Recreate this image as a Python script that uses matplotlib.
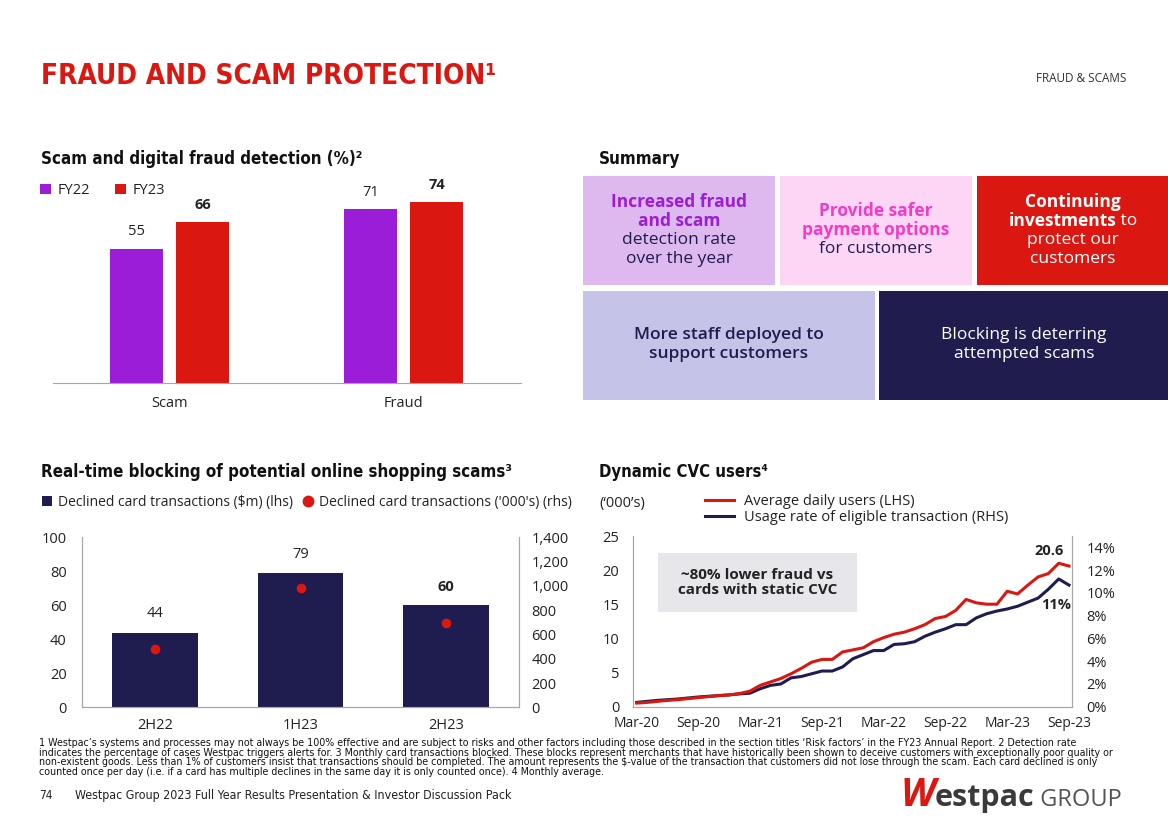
import matplotlib
matplotlib.use("Agg")
import matplotlib.pyplot as plt
from matplotlib import font_manager
from matplotlib.patches import Rectangle
from matplotlib.lines import Line2D
from matplotlib.ticker import FuncFormatter
import numpy as np

W, H = 1168, 825

# ---- data ----
detect_groups = ["Scam", "Fraud"]
detect_fy22 = [55, 71]
detect_fy23 = [66, 74]

block_periods = ["2H22", "1H23", "2H23"]
block_value_m = [44, 79, 60]
block_count_k = [480, 980, 695]

# monthly, Mar-20 .. Sep-23
cvc_users = [0.5, 0.6, 0.75, 0.9, 1.0, 1.15, 1.3, 1.45, 1.6, 1.7, 1.9, 2.25,
             3.1, 3.6, 4.1, 4.8, 5.6, 6.5, 6.9, 6.9, 8.0, 8.3, 8.6, 9.5,
             10.1, 10.6, 10.9, 11.4, 12.0, 12.9, 13.2, 14.1, 15.7, 15.2, 15.0, 15.0,
             16.9, 16.5, 17.8, 19.0, 19.5, 21.0, 20.6]
cvc_usage_pct = [0.36, 0.45, 0.54, 0.60, 0.66, 0.75, 0.84, 0.90, 0.96, 1.02, 1.11, 1.17,
                 1.56, 1.86, 1.98, 2.52, 2.64, 2.88, 3.12, 3.12, 3.48, 4.20, 4.56, 4.92,
                 4.92, 5.46, 5.52, 5.70, 6.18, 6.54, 6.84, 7.20, 7.20, 7.80, 8.16, 8.40,
                 8.58, 8.82, 9.18, 9.54, 10.32, 11.22, 10.68]
cvc_tick_labels = ["Mar-20", "Sep-20", "Mar-21", "Sep-21",
                   "Mar-22", "Sep-22", "Mar-23", "Sep-23"]

footnotes = [
    "1 Westpac\u2019s systems and processes may not always be 100% effective and are subject to risks and other factors including those described in the section titles \u2018Risk factors\u2019 in the FY23 Annual Report. 2 Detection rate",
    "indicates the percentage of cases Westpac triggers alerts for. 3 Monthly card transactions blocked. These blocks represent merchants that have historically been shown to deceive customers with exceptionally poor quality or",
    "non-existent goods. Less than 1% of customers insist that transactions should be completed. The amount represents the $-value of the transaction that customers did not lose through the scam. Each card declined is only",
    "counted once per day (i.e. if a card has multiple declines in the same day it is only counted once). 4 Monthly average.",
]

RED = "#DA1710"
PURPLE = "#9B1DD8"
NAVY = "#1F1C4F"
PINK = "#F03CC6"
GREY = "#A6A6A6"
TXT = "#222222"

plt.rcParams["font.family"] = ["Open Sans", "DejaVu Sans"]
plt.rcParams["text.color"] = TXT
plt.rcParams["axes.edgecolor"] = GREY
plt.rcParams["xtick.color"] = TXT
plt.rcParams["ytick.color"] = TXT

# condensed face for headings and small print
names = {f.name for f in font_manager.fontManager.ttflist}
cond = {f.name for f in font_manager.fontManager.ttflist if f.stretch == "condensed"}
if "Liberation Sans Narrow" in names:
    NARROW = dict(family=["Liberation Sans Narrow", "DejaVu Sans"])
elif "Noto Sans" in cond:
    NARROW = dict(family=["Noto Sans", "DejaVu Sans"], fontstretch="condensed")
elif "DejaVu Sans" in cond:
    NARROW = dict(family=["DejaVu Sans"], fontstretch="condensed")
else:
    NARROW = dict(family=["DejaVu Sans"])

fig = plt.figure(figsize=(W / 100, H / 100), dpi=100)
renderer = fig.canvas.get_renderer()


def fx(x):
    return x / W


def fy(y):
    return 1 - y / H


def box(l, t, r, b):
    return [l / W, 1 - b / H, (r - l) / W, (b - t) / H]


def fit(t, width, max_size=None):
    w = t.get_window_extent(renderer).width
    size = t.get_fontsize() * width / w
    if max_size is not None:
        size = min(size, max_size)
    t.set_fontsize(size)
    return size


# ---- headings ----
title = fig.text(fx(41), fy(83.5), "FRAUD AND SCAM PROTECTION\u00b9", color=RED,
                 fontsize=30, weight="bold", va="baseline", **NARROW)
fit(title, 455, 32)
fig.text(fx(1126), fy(78), "FRAUD & SCAMS", fontsize=8.5, color="#333333",
         ha="right", va="center")

headings = [
    (41, 163.5, "Scam and digital fraud detection (%)\u00b2", 324),
    (599, 163.5, "Summary", 82),
    (41, 476.5, "Real-time blocking of potential online shopping scams\u00b3", 474),
    (599, 476.5, "Dynamic CVC users\u2074", 170),
]
for x, y, s, w in headings:
    t = fig.text(fx(x), fy(y), s, fontsize=15, weight="bold", color="#111111",
                 va="baseline", **NARROW)
    fit(t, w, 15.5)

# ---- chart 1: detection rates ----
ax1 = fig.add_axes(box(52.7, 180, 520.5, 383.3))
xg = np.arange(len(detect_groups))
b22 = ax1.bar(xg - 0.142, detect_fy22, 0.226, color=PURPLE, label="FY22")
b23 = ax1.bar(xg + 0.142, detect_fy23, 0.226, color=RED, label="FY23")
ax1.set_xlim(-0.5, 1.5)
ax1.set_ylim(0, 83)
ax1.bar_label(b22, padding=7, fontsize=10.5)
lab = ax1.bar_label(b23, padding=7, fontsize=10.5)
for t in lab:
    t.set_fontweight("bold")
ax1.set_xticks(xg, detect_groups, fontsize=10.5)
ax1.set_yticks([])
ax1.tick_params(length=0, pad=9)
for side in ["top", "left", "right"]:
    ax1.spines[side].set_visible(False)
ax1.legend(loc="upper left", bbox_to_anchor=(fx(40), fy(183)),
           bbox_transform=fig.transFigure, ncol=2, frameon=False, fontsize=10.5,
           handlelength=0.72, handleheight=0.72, handletextpad=0.5,
           columnspacing=1.7, borderpad=0, borderaxespad=0)

# ---- summary tiles ----
tiles = [
    ((583, 176, 775, 285), "#DDB9F0"),
    ((780, 176, 972, 285), "#FDD5F5"),
    ((977, 176, 1168, 285), RED),
    ((583, 291, 875, 400), "#C6C3E9"),
    ((879, 291, 1168, 400), "#201C4E"),
]
for (l, t, r, b), c in tiles:
    fig.add_artist(Rectangle((fx(l), fy(b)), (r - l) / W, (b - t) / H,
                             transform=fig.transFigure, color=c, lw=0))

tile_lines = [
    (679, 202, "Increased fraud", "bold", PURPLE),
    (679, 221, "and scam", "bold", PURPLE),
    (679, 240, "detection rate", "normal", NAVY),
    (679, 259, "over the year", "normal", NAVY),
    (876, 211, "Provide safer", "bold", PINK),
    (876, 230, "payment options", "bold", PINK),
    (876, 249, "for customers", "normal", NAVY),
    (1073, 202, "Continuing", "bold", "white"),
    (1073, 240, "protect our", "normal", "white"),
    (1073, 259, "customers", "normal", "white"),
    (729, 335, "More staff deployed to", "semibold", NAVY),
    (729, 354, "support customers", "semibold", NAVY),
    (1024, 335, "Blocking is deterring", "normal", "white"),
    (1024, 354, "attempted scams", "normal", "white"),
]
for x, y, s, wt, c in tile_lines:
    fig.text(fx(x), fy(y), s, fontsize=12.5, weight=wt, color=c,
             ha="center", va="center")
t1 = fig.text(0, fy(221), "investments", fontsize=12.5, weight="bold",
              color="white", va="center")
t2 = fig.text(0, fy(221), " to", fontsize=12.5, color="white", va="center")
w1 = t1.get_window_extent(renderer).width
w2 = t2.get_window_extent(renderer).width
x0 = 1073 - (w1 + w2) / 2
t1.set_x(fx(x0))
t2.set_x(fx(x0 + w1))

# ---- chart 3: real-time blocking ----
ax3 = fig.add_axes(box(82, 537.3, 519, 707.3))
xp = np.arange(len(block_periods))
bars = ax3.bar(xp, block_value_m, 0.59, color=NAVY,
               label="Declined card transactions ($m) (lhs)")
ax3.set_xlim(-0.5, 2.5)
ax3.set_ylim(0, 100)
ax3.set_yticks(np.arange(0, 101, 20))
lab = ax3.bar_label(bars, padding=8, fontsize=10.5)
lab[-1].set_fontweight("bold")
ax3.set_xticks(xp, block_periods)
ax3.tick_params(axis="x", length=0, pad=8, labelsize=10.5)
ax3.tick_params(axis="y", length=0, pad=11, labelsize=10.5)
ax3.spines["top"].set_visible(False)
ax3r = ax3.twinx()
ax3r.plot(xp, block_count_k, "o", color=RED, ms=6)
ax3r.set_ylim(0, 1400)
ax3r.set_yticks(np.arange(0, 1401, 200))
ax3r.yaxis.set_major_formatter(FuncFormatter(lambda v, p: f"{v:,.0f}"))
ax3r.tick_params(axis="y", length=0, pad=9, labelsize=10.5)
ax3r.spines["top"].set_visible(False)
dot = Line2D([], [], marker="o", ls="", color=RED, ms=7.5,
             label="Declined card transactions ('000's) (rhs)")
ax3.legend(handles=[bars, dot], loc="upper left", bbox_to_anchor=(fx(42), fy(495)),
           bbox_transform=fig.transFigure, ncol=2, frameon=False, fontsize=10,
           handlelength=0.72, handleheight=0.72, handletextpad=0.45,
           columnspacing=0.7, borderpad=0, borderaxespad=0)

# ---- chart 4: dynamic CVC users ----
ax4 = fig.add_axes(box(633.3, 536, 1072.3, 706.5))
xm = np.arange(len(cvc_users))
l1, = ax4.plot(xm, cvc_users, color=RED, lw=2.2,
               label="Average daily users (LHS)")
ax4.set_xlim(-0.33, len(cvc_users) - 1 + 0.32)
ax4.set_ylim(0, 25)
ax4.set_yticks(np.arange(0, 26, 5))
ax4.set_xticks(np.arange(0, len(cvc_users), 6), cvc_tick_labels)
ax4.tick_params(axis="x", length=0, pad=7, labelsize=10)
ax4.tick_params(axis="y", length=0, pad=10, labelsize=10.5)
ax4.spines["top"].set_visible(False)
ax4r = ax4.twinx()
l2, = ax4r.plot(xm, cvc_usage_pct, color=NAVY, lw=2.2,
                label="Usage rate of eligible transaction (RHS)")
ax4r.set_ylim(0, 15)
ax4r.set_yticks(np.arange(0, 15, 2))
ax4r.yaxis.set_major_formatter(FuncFormatter(lambda v, p: f"{v:.0f}%"))
ax4r.tick_params(axis="y", length=0, pad=10, labelsize=10.5)
ax4r.spines["top"].set_visible(False)
ax4.set_zorder(ax4r.get_zorder() + 1)
ax4.patch.set_visible(False)

ax4.add_patch(Rectangle((0.056, 0.554), 0.4535, 0.346, transform=ax4.transAxes,
                        color="#E6E6EB", lw=0, zorder=0))
ax4.text(0.283, 0.727, "~80% lower fraud vs\ncards with static CVC",
         transform=ax4.transAxes, ha="center", va="center", fontsize=11,
         weight="bold", linespacing=1.1)
ax4.annotate(f"{cvc_users[-1]}", (xm[-1], cvc_users[-1]), xytext=(-14, 11),
             textcoords="offset points", ha="center", va="center",
             fontsize=10.5, weight="bold")
ax4r.annotate(f"{cvc_usage_pct[-1]:.0f}%", (xm[-1], cvc_usage_pct[-1]),
              xytext=(-9, -14), textcoords="offset points", ha="center",
              va="center", fontsize=10.5, weight="bold")
fig.text(fx(599), fy(503), "(\u2018000\u2019s)", fontsize=10.5, va="center")
ax4.legend(handles=[l1, l2], loc="upper left", bbox_to_anchor=(fx(705), fy(494)),
           bbox_transform=fig.transFigure, frameon=False, fontsize=10.5,
           handlelength=2.0, handletextpad=0.7, labelspacing=0.1,
           borderpad=0, borderaxespad=0)

# ---- footnotes and footer ----
notes = []
for i, s in enumerate(footnotes):
    notes.append(fig.text(fx(39), fy(746 + 9.6 * i), s, fontsize=7,
                          va="baseline", color="#111111", **NARROW))
size = fit(notes[1], 1087)
for t in notes:
    t.set_fontsize(size)

fig.text(fx(39), fy(799), "74", fontsize=8.5, va="baseline", **NARROW)
foot = fig.text(fx(75), fy(799),
                "Westpac Group 2023 Full Year Results Presentation & Investor Discussion Pack",
                fontsize=8.5, va="baseline", **NARROW)
fit(foot, 438)

lw_ = fig.text(fx(900), fy(806), "W", fontsize=28, weight="bold", color=RED,
               va="baseline", style="italic")
le = fig.text(0, fy(806), "estpac", fontsize=22, weight="bold", color="#3A3A3A",
              va="baseline")
lg = fig.text(0, fy(806), " GROUP", fontsize=17, color="#555555", va="baseline")
x = 900
for t in [lw_, le, lg]:
    t.set_x(fx(x))
    x += t.get_window_extent(renderer).width

fig.savefig("out.png", dpi=100)
